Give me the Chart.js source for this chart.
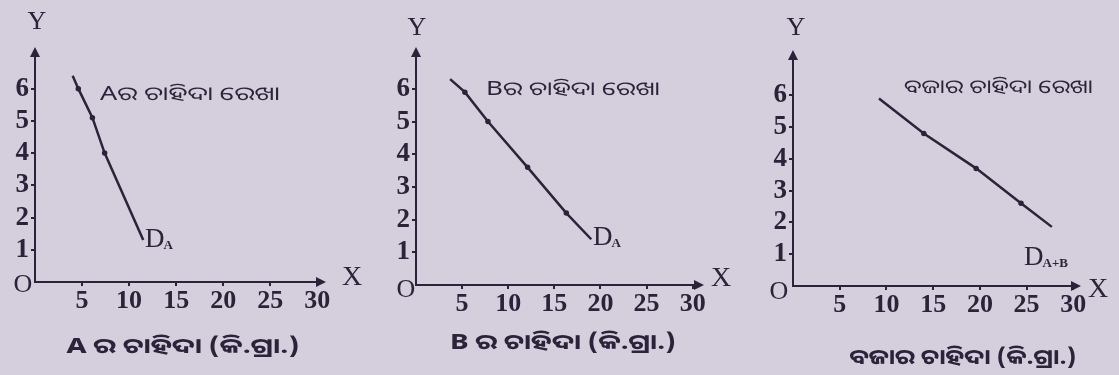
<!DOCTYPE html>
<html>
<head>
<meta charset="utf-8">
<script src="https://cdn.jsdelivr.net/npm/chart.js@4/dist/chart.umd.min.js"></script>
<style>
    html, body { margin: 0; padding: 0; background: #d5cedc; overflow: hidden; }
    .row { display: flex; width: 1119px; height: 375px; }
    .panel { position: relative; width: 373px; height: 375px; }
</style>
</head>
<body>
<div class="row">
    <div class="panel"><canvas id="chart-a"></canvas></div>
    <div class="panel"><canvas id="chart-b"></canvas></div>
    <div class="panel"><canvas id="chart-c"></canvas></div>
</div>
<script>
// values (qty in kg, price)
var xTicks = [5, 10, 15, 20, 25, 30];
var yTicks = [1, 2, 3, 4, 5, 6];
var demandAQty = [4.0, 4.6, 6.1, 7.4, 11.5];
var demandAPrice = [6.4, 6.0, 5.1, 4.0, 1.3];
var demandBQty = [3.7, 5.3, 7.8, 12.1, 16.3, 19.0];
var demandBPrice = [6.3, 5.9, 5.0, 3.6, 2.2, 1.4];
var marketQty = [9.2, 14.0, 19.6, 24.4, 27.7];
var marketPrice = [5.9, 4.8, 3.7, 2.6, 1.86];
var curveLabels = ['Aର ଚାହିଦା ରେଖା', 'Bର ଚାହିଦା ରେଖା', 'ବଜାର ଚାହିଦା ରେଖା'];
var curveSubs = ['A', 'A', 'A+B'];
var axisTitles = ['A ର ଚାହିଦା (କି.ଗ୍ରା.)', 'B ର ଚାହିଦା (କି.ଗ୍ରା.)', 'ବଜାର ଚାହିଦା (କି.ଗ୍ରା.)'];

var INK = '#29243a';
var SERIF = '"Liberation Serif", "DejaVu Serif", serif';
var ODIA = '"Noto Sans Oriya", "Noto Sans", sans-serif';

// panel layout (pixels inside each 373x375 panel); label/title = [x, y, width]
var layouts = [
    { ox: 35, oy: 282, top: 50, right: 323, xMax: 30.6, yMax: 7.2,
      label: [100, 95, 180], dlab: [145, 240], title: [183, 347, 233], Y: [37, 22], X: [352, 278], O: [23, 285] },
    { ox: 43, oy: 285, top: 50, right: 328, xMax: 30.9, yMax: 7.19,
      label: [113, 90, 174], dlab: [220, 238], title: [190, 343, 226], Y: [44, 28], X: [348, 279], O: [33, 290] },
    { ox: 47, oy: 286, top: 53, right: 332, xMax: 30.5, yMax: 7.33,
      label: [158, 88, 189], dlab: [278, 258], title: [217, 358, 227], Y: [50, 28], X: [352, 290], O: [33, 292] }
];

function toPoints(xs, ys) {
    return xs.map(function (x, i) { return { x: x, y: ys[i] }; });
}

// draw text stretched horizontally to a given width (the scan's glyphs are wide)
function fitText(ctx, text, x, y, width, centered) {
    var w = ctx.measureText(text).width;
    var k = width / w;
    var left = centered ? x - width / 2 : x;
    ctx.save();
    ctx.textAlign = 'left';
    ctx.translate(left, y);
    ctx.scale(k, 1);
    ctx.fillText(text, 0, 0);
    ctx.restore();
}

var decorPlugin = {
    id: 'decor',
    afterDraw: function (chart, args, opts) {
        var ctx = chart.ctx;
        var L = opts.layout;
        var a = chart.chartArea;
        ctx.save();
        ctx.fillStyle = INK;
        // arrow heads
        ctx.beginPath();
        ctx.moveTo(a.right + 3, a.bottom);
        ctx.lineTo(a.right - 7, a.bottom - 5);
        ctx.lineTo(a.right - 7, a.bottom + 5);
        ctx.closePath();
        ctx.fill();
        ctx.beginPath();
        ctx.moveTo(a.left, a.top - 3);
        ctx.lineTo(a.left - 5, a.top + 7);
        ctx.lineTo(a.left + 5, a.top + 7);
        ctx.closePath();
        ctx.fill();
        // axis letters
        ctx.textAlign = 'center';
        ctx.textBaseline = 'middle';
        ctx.font = '26px ' + SERIF;
        ctx.fillText('Y', L.Y[0], L.Y[1]);
        ctx.font = '28px ' + SERIF;
        ctx.fillText('X', L.X[0], L.X[1]);
        ctx.font = '26px ' + SERIF;
        ctx.fillText('O', L.O[0], L.O[1]);
        // curve label
        ctx.font = '19px ' + ODIA;
        fitText(ctx, opts.curveLabel, L.label[0], L.label[1], L.label[2], false);
        // D with subscript
        ctx.textAlign = 'left';
        ctx.font = '27px ' + SERIF;
        ctx.fillText('D', L.dlab[0], L.dlab[1]);
        var dw = ctx.measureText('D').width;
        ctx.font = 'bold 13px ' + SERIF;
        ctx.fillText(opts.sub, L.dlab[0] + dw - 1, L.dlab[1] + 6);
        // axis title
        ctx.font = 'bold 21px ' + ODIA;
        fitText(ctx, opts.title, L.title[0], L.title[1], L.title[2], true);
        ctx.restore();
    }
};

function makeChart(id, idx, xs, ys) {
    var L = layouts[idx];
    var pts = toPoints(xs, ys);
    var radii = pts.map(function (p, i) { return (i === 0 || i === pts.length - 1) ? 0 : 1.5; });
    new Chart(document.getElementById(id), {
        type: 'scatter',
        data: {
            datasets: [{
                data: pts,
                showLine: true,
                borderColor: INK,
                backgroundColor: INK,
                borderWidth: 2.5,
                pointRadius: radii,
                pointHoverRadius: 0
            }]
        },
        options: {
            responsive: true,
            maintainAspectRatio: false,
            animation: false,
            events: [],
            layout: { padding: { left: 0, top: L.top, right: 373 - L.right, bottom: 0 } },
            plugins: {
                legend: { display: false },
                tooltip: { enabled: false },
                decor: { layout: L, curveLabel: curveLabels[idx], sub: curveSubs[idx], title: axisTitles[idx] }
            },
            scales: {
                x: {
                    type: 'linear',
                    min: 0,
                    max: L.xMax,
                    afterFit: function (s) { s.height = 375 - L.oy; },
                    afterBuildTicks: function (s) { s.ticks = xTicks.map(function (v) { return { value: v }; }); },
                    border: { display: true, color: INK, width: 2 },
                    grid: { drawOnChartArea: false, drawTicks: true, tickLength: 4, color: INK, lineWidth: 2 },
                    ticks: { color: INK, font: { family: SERIF, size: 26, weight: 'bold' }, padding: 0, maxRotation: 0 }
                },
                y: {
                    type: 'linear',
                    min: 0,
                    max: L.yMax,
                    afterFit: function (s) { s.width = L.ox; },
                    afterBuildTicks: function (s) { s.ticks = yTicks.map(function (v) { return { value: v }; }); },
                    border: { display: true, color: INK, width: 2 },
                    grid: { drawOnChartArea: false, drawTicks: true, tickLength: 4, color: INK, lineWidth: 2 },
                    ticks: { color: INK, font: { family: SERIF, size: 27, weight: 'bold' }, padding: 2 }
                }
            }
        },
        plugins: [decorPlugin]
    });
}

makeChart('chart-a', 0, demandAQty, demandAPrice);
makeChart('chart-b', 1, demandBQty, demandBPrice);
makeChart('chart-c', 2, marketQty, marketPrice);
</script>
</body>
</html>
